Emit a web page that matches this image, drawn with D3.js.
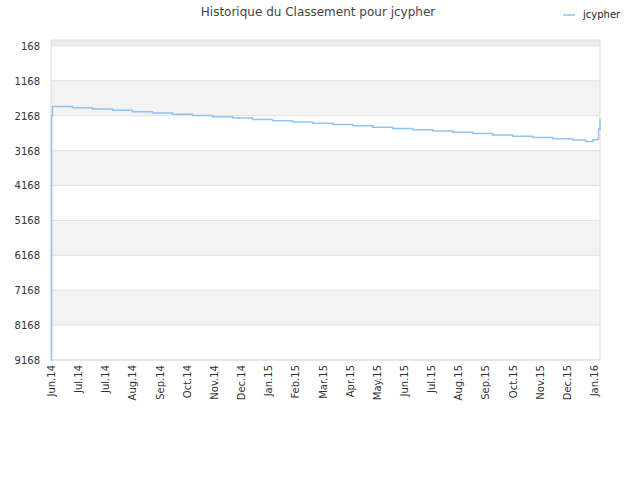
<!DOCTYPE html><html><head><meta charset="utf-8"><script src="https://d3js.org/d3.v7.min.js"></script>
<style>body{margin:0;background:#fff}text{font-family:"DejaVu Sans",sans-serif}</style></head><body><svg id="c" width="640" height="480"></svg>
<script>
const xLabels=["Jun.14","Jul.14","Jul.14","Aug.14","Sep.14","Oct.14","Nov.14","Dec.14","Jan.15","Feb.15","Mar.15","Apr.15","May.15","Jun.15","Jul.15","Aug.15","Sep.15","Oct.15","Nov.15","Dec.15","Jan.16"];
const yTicks=[168,1168,2168,3168,4168,5168,6168,7168,8168,9168];
const idx=[0,0.02,0.05,0.75,1.45,2.15,2.85,3.55,4.25,4.95,5.65,6.35,7.05,7.75,8.45,9.15,9.85,10.55,11.25,11.95,12.65,13.35,14.05,14.75,15.45,16.15,16.85,17.55,18.25,18.7,18.95,19.1,19.15,19.2];
const rank=[9168,2168,1905,1942,1979,2016,2053,2090,2127,2164,2201,2238,2275,2312,2349,2386,2423,2460,2497,2534,2571,2608,2645,2682,2719,2756,2793,2830,2867,2910,2860,2840,2550,2250];
const svg=d3.select("#c");
const L=51,R=600,T=40,B=360;
const x=d3.scaleLinear().domain([0,19.2]).range([L,R]);
const y=d3.scaleLinear().domain([0,9168]).range([T,B]);
const xt=d3.scalePoint().domain(d3.range(xLabels.length)).range([51,594]);
const edges=[0,...yTicks];
for(let i=0;i<edges.length-1;i++){
 svg.append("rect").attr("x",L).attr("width",R-L).attr("y",y(edges[i])).attr("height",y(edges[i+1])-y(edges[i]))
  .attr("fill",i==0?"#ebebeb":(i%2==0?"#f3f3f3":"#fff"));
}
yTicks.forEach(t=>svg.append("line").attr("x1",L).attr("x2",R).attr("y1",y(t)).attr("y2",y(t)).attr("stroke","#e0e0e0"));
svg.append("rect").attr("x",L).attr("y",T).attr("width",R-L).attr("height",B-T).attr("fill","none").attr("stroke","#ddd");
yTicks.forEach(t=>svg.append("text").attr("x",L-11).attr("y",y(t)+4).attr("text-anchor","end").attr("font-size",10).attr("fill","#333").text(t));
xLabels.forEach((l,i)=>{
 svg.append("text").attr("transform",`translate(${xt(i)+4},${B+5}) rotate(-90)`).attr("text-anchor","end").attr("font-size",10).attr("fill","#333").text(l);
});
const data=idx.map((d,i)=>[d,rank[i]]);
svg.append("path").datum(data).attr("fill","none").attr("stroke","#90c4f2").attr("stroke-width",1.5)
 .attr("d",d3.line().x(d=>x(d[0])).y(d=>y(d[1])).curve(d3.curveStepAfter));
svg.append("text").attr("x",318).attr("y",16).attr("text-anchor","middle").attr("font-size",12).attr("fill","#444").text("Historique du Classement pour jcypher");
svg.append("line").attr("x1",563).attr("x2",575).attr("y1",15).attr("y2",15).attr("stroke","#90c4f2").attr("stroke-width",1.5);
svg.append("text").attr("x",583).attr("y",18).attr("font-size",10).attr("fill","#222").text("jcypher");
</script></body></html>
